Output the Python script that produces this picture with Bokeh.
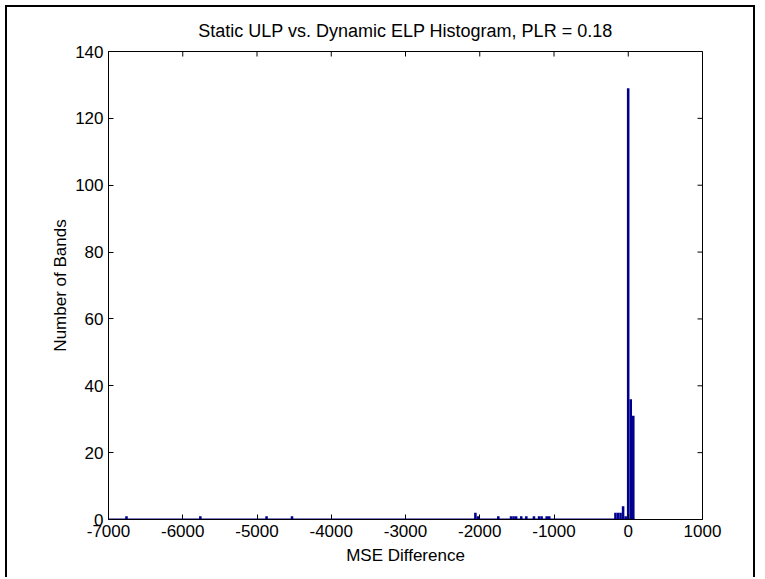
import numpy as np
from bokeh.plotting import figure
from bokeh.models import Range1d, FixedTicker, ColumnDataSource
from bokeh.embed import file_html
from bokeh.resources import INLINE

# ---- data ----
title_text = "Static ULP vs. Dynamic ELP Histogram, PLR = 0.18"
x_label = "MSE Difference"
y_label = "Number of Bands"
x_ticks = [-7000, -6000, -5000, -4000, -3000, -2000, -1000, 0, 1000]
y_ticks = [0, 20, 40, 60, 80, 100, 120, 140]

hist_min = -6775.0   # left edge of first bin
hist_max = 85.0      # right edge of last bin
n_bins = 200

# non-empty bins (index of bin, count)
bin_index = [0, 29, 55, 65, 137, 138, 146, 151, 152, 153, 155, 157, 160,
             162, 163, 165, 166, 192, 193, 194, 195, 196, 197, 198, 199]
bin_count = [1, 1, 1, 1, 2, 1, 1, 1, 1, 1, 1, 1, 1,
             1, 1, 1, 1, 2, 2, 2, 4, 1, 129, 36, 31]

# ---- build ----
edges = np.linspace(hist_min, hist_max, n_bins + 1)
idx = np.array(bin_index)
src = ColumnDataSource(dict(left=edges[idx], right=edges[idx + 1],
                            top=bin_count, bottom=[0] * len(bin_count)))

FONT = "Liberation Sans"
BAR = "#00008F"

p = figure(width=750, height=572,
           x_range=Range1d(x_ticks[0], x_ticks[-1]),
           y_range=Range1d(y_ticks[0], y_ticks[-1]),
           output_backend="svg", toolbar_location=None,
           min_border_left=101, min_border_right=55,
           min_border_top=44, min_border_bottom=60)
p.styles = {"margin-left": "5px", "margin-top": "5px",
            "border-left": "2px solid black", "border-top": "2px solid black",
            "border-right": "2px solid black"}

p.title.text = title_text
p.title.align = "center"
p.title.text_font = FONT
p.title.text_font_size = "18px"
p.title.text_font_style = "normal"
p.title.text_color = "black"
p.title.standoff = 21

p.xgrid.visible = False
p.ygrid.visible = False
p.outline_line_color = "black"
p.outline_line_width = 1
p.background_fill_color = "white"
p.border_fill_color = "white"

p.quad(left="left", right="right", top="top", bottom="bottom", source=src,
       fill_color=BAR, line_color=None)
p.line(x=[x_ticks[0], hist_max], y=[0, 0], line_color=BAR, line_width=2)

# inward tick marks on the top and right edges (half of each dash is clipped)
p.scatter(x=x_ticks, y=[y_ticks[-1]] * len(x_ticks), marker="dash",
          angle=np.pi / 2, size=10, line_color="black", line_width=1)
p.scatter(x=[x_ticks[-1]] * len(y_ticks), y=y_ticks, marker="dash",
          size=10, line_color="black", line_width=1)


def style_axis(ax):
    ax.major_tick_in = 5
    ax.major_tick_out = 0
    ax.minor_tick_in = 0
    ax.minor_tick_out = 0
    ax.axis_line_color = "black"
    ax.major_tick_line_color = "black"
    ax.major_label_text_font = FONT
    ax.major_label_text_color = "black"
    ax.major_label_text_font_size = "17px"
    ax.major_label_standoff = 5
    ax.axis_label_text_font = FONT
    ax.axis_label_text_font_style = "normal"
    ax.axis_label_text_color = "black"
    ax.axis_label_text_font_size = "17px"


xa = p.xaxis[0]
xa.ticker = FixedTicker(ticks=x_ticks)
xa.major_label_overrides = {t: str(t) for t in x_ticks}
xa.axis_label = x_label
xa.axis_label_standoff = 6
style_axis(xa)

ya = p.yaxis[0]
ya.ticker = FixedTicker(ticks=y_ticks)
ya.major_label_overrides = {t: str(t) for t in y_ticks}
ya.axis_label = y_label
ya.axis_label_standoff = 2
style_axis(ya)

open("out.html", "w").write(file_html(p, INLINE))
